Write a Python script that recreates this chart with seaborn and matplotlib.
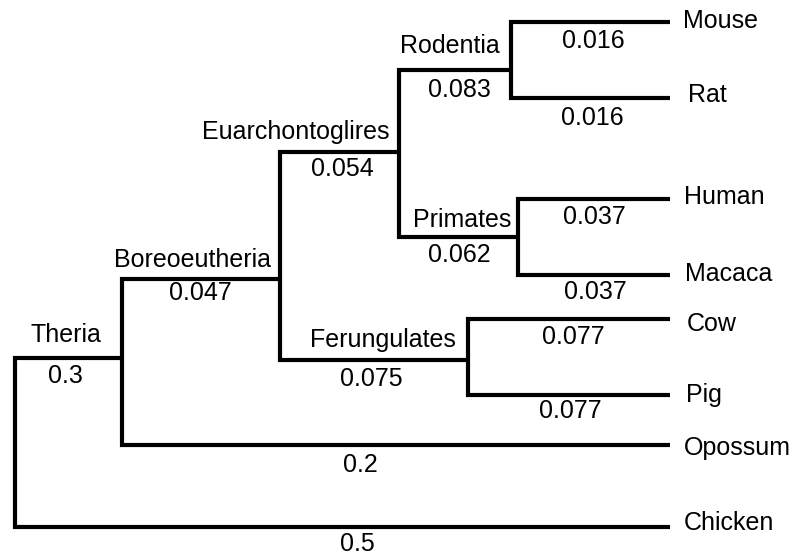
import matplotlib
matplotlib.use("Agg")
import matplotlib.pyplot as plt
import pandas as pd
import seaborn as sns

# ---- tree data -------------------------------------------------------------
nodes = ["Root", "Theria", "Chicken", "Boreoeutheria", "Opossum",
         "Euarchontoglires", "Ferungulates", "Rodentia", "Primates",
         "Mouse", "Rat", "Human", "Macaca", "Cow", "Pig"]
parents = [None, "Root", "Root", "Theria", "Theria",
           "Boreoeutheria", "Boreoeutheria", "Euarchontoglires", "Euarchontoglires",
           "Rodentia", "Rodentia", "Primates", "Primates",
           "Ferungulates", "Ferungulates"]
branch_lengths = [None, 0.3, 0.5, 0.047, 0.2,
                  0.054, 0.075, 0.083, 0.062,
                  0.016, 0.016, 0.037, 0.037, 0.077, 0.077]
clade_labels = ["Theria", "Boreoeutheria", "Euarchontoglires",
                "Ferungulates", "Rodentia", "Primates"]
leaf_labels = ["Mouse", "Rat", "Human", "Macaca", "Cow", "Pig",
               "Opossum", "Chicken"]

# ---- cladogram layout (canvas pixels, y grows downward) ---------------------
layout = pd.DataFrame({
    "node": nodes,
    "x": [15, 122, 670, 280, 670, 399, 468, 511, 518,
          670, 670, 670, 670, 670, 670],
    "y": [442, 358, 527, 279, 445, 152, 360, 70, 237,
          22, 98, 199, 275, 319, 395],
}).set_index("node")

# anchor of the clade name (centre, baseline)
name_anchor = {
    "Theria": (66, 342), "Boreoeutheria": (192, 267),
    "Euarchontoglires": (296, 139), "Ferungulates": (383, 347),
    "Rodentia": (450, 53), "Primates": (462, 227),
}
# anchor of the branch-length label (centre, baseline)
value_anchor = {
    "Theria": (65, 383), "Boreoeutheria": (200, 300),
    "Euarchontoglires": (342, 176), "Ferungulates": (371, 386),
    "Rodentia": (459, 97), "Primates": (459, 262),
    "Mouse": (593, 48), "Rat": (592, 125), "Human": (594, 224),
    "Macaca": (595, 299), "Cow": (573, 344), "Pig": (570, 418),
    "Opossum": (360, 472), "Chicken": (357, 551),
}
# anchor of the leaf name (left, baseline)
leaf_anchor = {
    "Mouse": (683, 28), "Rat": (688, 102), "Human": (684, 204),
    "Macaca": (685, 281), "Cow": (687, 331), "Pig": (686, 402),
    "Opossum": (684, 455), "Chicken": (684, 530),
}

# ---- build the elbow paths: child1 -> node vertical -> child2 --------------
children = {}
for n, p in zip(nodes, parents):
    if p is not None:
        children.setdefault(p, []).append(n)

rows = []
for k, (parent, kids) in enumerate(children.items()):
    c1, c2 = kids
    px = layout.loc[parent, "x"]
    pts = [(layout.loc[c1, "x"], layout.loc[c1, "y"]),
           (px, layout.loc[c1, "y"]),
           (px, layout.loc[c2, "y"]),
           (layout.loc[c2, "x"], layout.loc[c2, "y"])]
    for order, (x, y) in enumerate(pts):
        rows.append({"path": k, "order": order, "x": x, "y": y})
edges = pd.DataFrame(rows)

# ---- draw ----------------------------------------------------------------
sns.set_style("white")
plt.rcParams["font.family"] = ["Liberation Sans", "DejaVu Sans"]
plt.rcParams["text.color"] = "black"

fig = plt.figure(figsize=(7.95, 5.55), dpi=100)
ax = fig.add_axes([0, 0, 1, 1])
sns.lineplot(data=edges, x="x", y="y", units="path", estimator=None,
             sort=False, color="black", linewidth=3, legend=False, ax=ax)
for line in ax.lines:
    line.set_solid_joinstyle("miter")
    line.set_solid_capstyle("butt")

fs = 18
length_of = dict(zip(nodes, branch_lengths))
for name in clade_labels:
    x, y = name_anchor[name]
    ax.text(x, y, name, ha="center", va="baseline", fontsize=fs, color="black")
for name, (x, y) in value_anchor.items():
    ax.text(x, y, f"{length_of[name]:g}", ha="center", va="baseline",
            fontsize=fs, color="black")
for name in leaf_labels:
    x, y = leaf_anchor[name]
    ax.text(x, y, name, ha="left", va="baseline", fontsize=fs, color="black")

ax.set_xlim(0, 795)
ax.set_ylim(555, 0)
ax.axis("off")
fig.savefig("out.png", dpi=100, facecolor="white")
